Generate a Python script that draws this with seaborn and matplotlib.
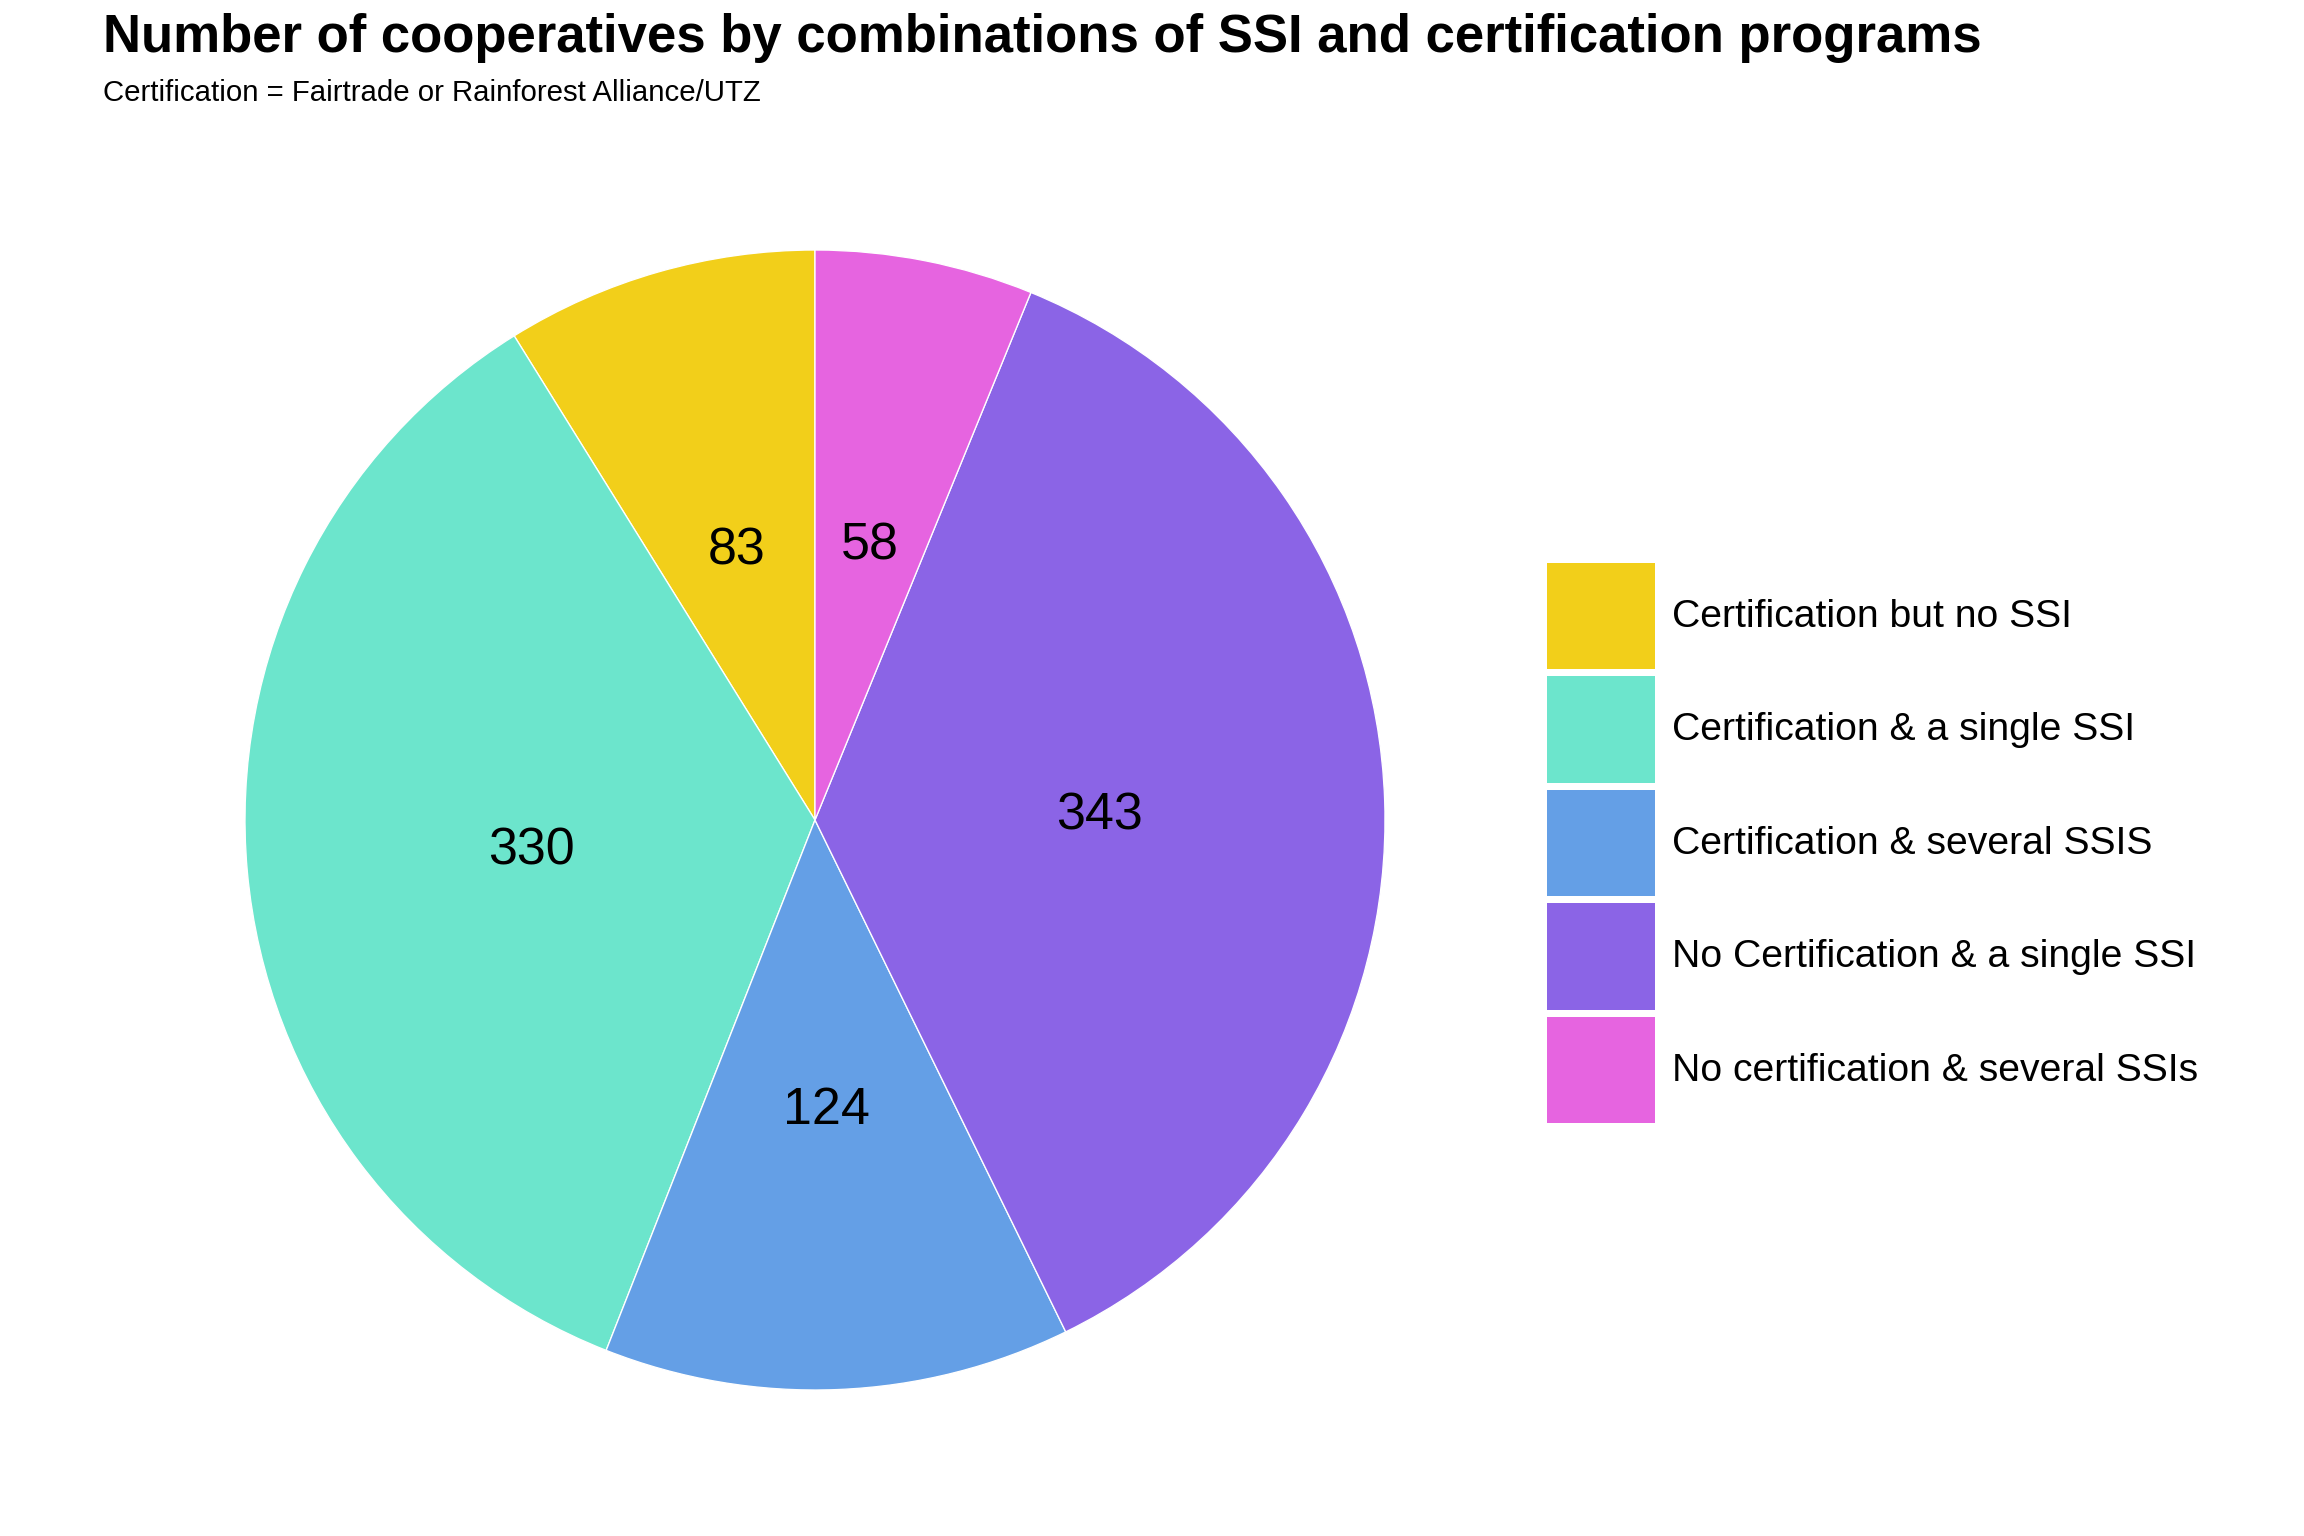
import matplotlib
matplotlib.use('Agg')
import matplotlib.pyplot as plt
import seaborn as sns

# data
categories = ['Certification but no SSI', 'Certification & a single SSI',
              'Certification & several SSIS', 'No Certification & a single SSI',
              'No certification & several SSIs']
counts = [83, 330, 124, 343, 58]
colours = ['#F2CF1A', '#6CE5CC', '#649FE6', '#8B64E6', '#E664E0']

sns.set_theme(style='white')
plt.rcParams['font.family'] = ['Liberation Sans', 'DejaVu Sans']
plt.rcParams['text.color'] = 'black'

W, H = 2304, 1536
fig = plt.figure(figsize=(12, 8), dpi=192)

# pie axes placed in pixel terms: centre (815, 820), radius 570
cx, cy, r = 815, 820, 570
ax = fig.add_axes([(cx - r) / W, (H - cy - r) / H, 2 * r / W, 2 * r / H])
wedges, texts = ax.pie(counts, colors=colours, startangle=90, counterclock=True,
                       labels=[str(c) for c in counts], labeldistance=0.5,
                       wedgeprops=dict(edgecolor='white', linewidth=0.5),
                       textprops=dict(fontsize=19.5, color='black'))
for t in texts:
    t.set_ha('center')
    t.set_va('center_baseline')
ax.set_xlim(-1, 1)
ax.set_ylim(-1, 1)
ax.set_aspect('equal')
ax.axis('off')

# legend
leg = fig.legend(wedges, categories, loc='upper left',
                 bbox_to_anchor=(1547 / W, 1 - 563 / H), frameon=False,
                 fontsize=14.7, handlelength=2.75, handleheight=3.8,
                 labelspacing=0.18, handletextpad=0.45, borderpad=0,
                 borderaxespad=0)
for h in leg.legend_handles:
    h.set_edgecolor('none')

fig.text(103 / W, 1 - 38 / H, 'Number of cooperatives by combinations of SSI and certification programs',
         fontsize=19.8, fontweight='bold', va='center', ha='left')
fig.text(103 / W, 1 - 93 / H, 'Certification = Fairtrade or Rainforest Alliance/UTZ',
         fontsize=11, va='center', ha='left')

fig.savefig('out.png', dpi=192, facecolor='white')
